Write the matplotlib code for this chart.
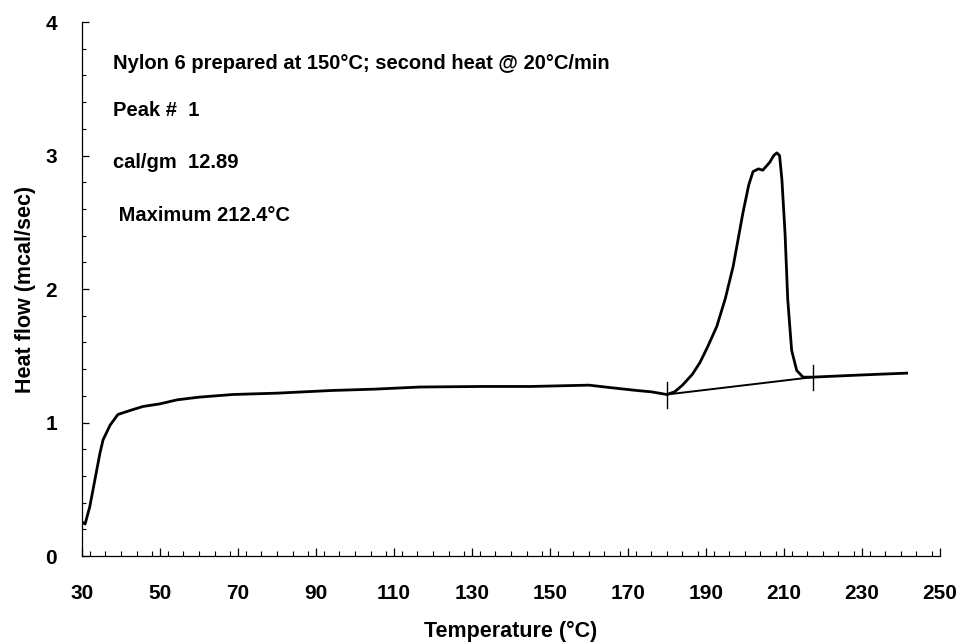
import matplotlib
matplotlib.use("Agg")
import matplotlib.pyplot as plt
from matplotlib.ticker import MultipleLocator, FixedLocator

# ---------------------------------------------------------------------------
# Data (temperature in degC, heat flow in mcal/sec)
# ---------------------------------------------------------------------------

temperature = [30.0, 30.8, 32.0, 33.3, 34.6, 35.4, 37.2, 39.2, 42.3, 45.6,
               50.0, 54.4, 60.0, 68.7, 80.0, 94.0, 105.0, 116.7, 132.0, 145.0,
               160.0, 166.0, 172.3, 176.0, 180.0,
               182.0, 184.0, 186.5, 188.5, 190.5, 192.8, 195.0, 197.0, 199.5,
               201.0, 202.1, 203.5, 204.6, 205.5, 206.4, 207.4, 208.2, 208.9,
               209.5, 210.3, 211.0, 212.0, 213.3, 214.9, 217.4, 225.0, 233.0,
               241.5]
heat_flow = [0.255, 0.24, 0.37, 0.57, 0.77, 0.87, 0.98, 1.06, 1.09, 1.12,
             1.14, 1.17, 1.19, 1.21, 1.22, 1.24, 1.25, 1.266, 1.27, 1.27,
             1.28, 1.26, 1.24, 1.23, 1.21,
             1.23, 1.28, 1.36, 1.45, 1.57, 1.72, 1.93, 2.17, 2.57,
             2.78, 2.88, 2.90, 2.89, 2.92, 2.95, 3.00, 3.02, 3.00,
             2.82, 2.42, 1.92, 1.54, 1.39, 1.34, 1.34, 1.35, 1.36,
             1.37]

# integration baseline between the onset and end markers
baseline_t = [180.0, 217.4]
baseline_h = [1.21, 1.34]

x_ticks = [30, 50, 70, 90, 110, 130, 150, 170, 190, 210, 230, 250]

annotations = ["Nylon 6 prepared at 150\u00b0C; second heat @ 20\u00b0C/min",
               "Peak #  1",
               "cal/gm  12.89",
               " Maximum 212.4\u00b0C"]
annotation_y = [3.69, 3.34, 2.95, 2.55]

plt.rcParams['font.family'] = ['Liberation Sans', 'DejaVu Sans']
plt.rcParams['font.weight'] = 'bold'

# ---------------------------------------------------------------------------
# Plot
# ---------------------------------------------------------------------------

fig = plt.figure(figsize=(9.59, 6.44), dpi=100)
ax = fig.add_axes([0.0855, 0.1366, 0.8945, 0.8292])

ax.plot(temperature, heat_flow, color="black", lw=2.0, solid_joinstyle="round")
ax.plot(baseline_t, baseline_h, color="black", lw=1.4)

# vertical markers at onset / end of integration
for t, h in zip(baseline_t, baseline_h):
    ax.plot([t, t], [h - 0.1, h + 0.09], color="black", lw=1.0)

for txt, y in zip(annotations, annotation_y):
    ax.text(37.9, y, txt, fontsize=14.5, fontweight="bold", va="center", ha="left")

ax.set_xlim(30, 250)
ax.set_ylim(0, 4)
ax.xaxis.set_major_locator(FixedLocator(x_ticks))
ax.xaxis.set_minor_locator(MultipleLocator(4))
ax.yaxis.set_major_locator(MultipleLocator(1))
ax.yaxis.set_minor_locator(MultipleLocator(0.2))

ax.spines["top"].set_visible(False)
ax.spines["right"].set_visible(False)
ax.spines["left"].set_linewidth(0.9)
ax.spines["bottom"].set_linewidth(0.9)

ax.tick_params(axis="x", which="major", direction="in", length=6, width=0.9,
               pad=20, labelsize=15)
ax.tick_params(axis="x", which="minor", direction="in", length=3.5, width=0.8)
ax.tick_params(axis="y", which="major", direction="in", length=5, width=0.9,
               pad=18, labelsize=15)
ax.tick_params(axis="y", which="minor", direction="in", length=3, width=0.8)
for lbl in ax.get_xticklabels() + ax.get_yticklabels():
    lbl.set_fontweight("bold")

ax.set_xlabel("Temperature (\u00b0C)", fontsize=15.5, fontweight="bold", labelpad=13)
ax.set_ylabel("Heat flow (mcal/sec)", fontsize=15.5, fontweight="bold", labelpad=7)

fig.savefig("out.png", dpi=100)
